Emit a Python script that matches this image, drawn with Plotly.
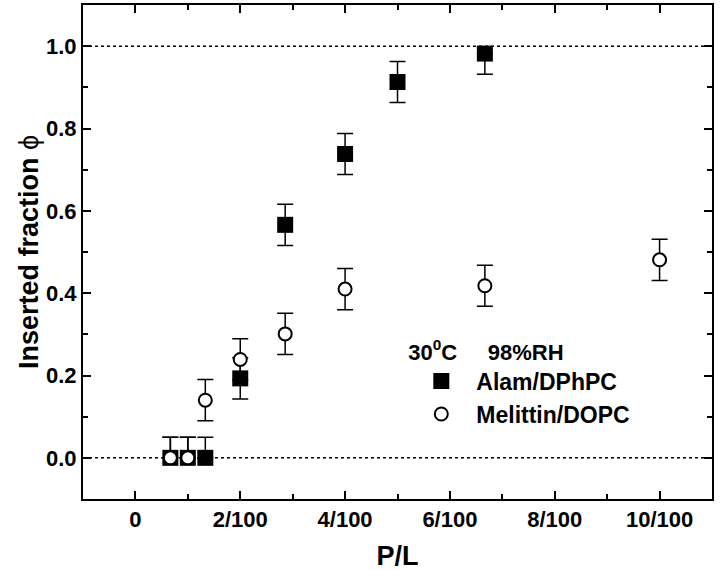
import plotly.graph_objects as go

# Data
alam_x = [1/150, 1/100, 1/75, 1/50, 1/35, 1/25, 1/20, 1/15]
alam_y = [0.0, 0.0, 0.0, 0.193, 0.566, 0.738, 0.913, 0.982]
alam_err_plus = [0.05, 0.05, 0.05, 0.05, 0.05, 0.05, 0.05, 0.0]
alam_err_minus = [0.0, 0.0, 0.0, 0.05, 0.05, 0.05, 0.05, 0.05]

mel_x = [1/150, 1/100, 1/75, 1/50, 1/35, 1/25, 1/15, 1/10]
mel_y = [0.0, 0.0, 0.14, 0.239, 0.301, 0.41, 0.418, 0.481]
mel_err_plus = [0.05, 0.05, 0.05, 0.05, 0.05, 0.05, 0.05, 0.05]
mel_err_minus = [0.0, 0.0, 0.05, 0.05, 0.05, 0.05, 0.05, 0.05]

x_tickvals = [0, 0.02, 0.04, 0.06, 0.08, 0.10]
x_ticktext = ["0", "2/100", "4/100", "6/100", "8/100", "10/100"]
y_tickvals = [0.0, 0.2, 0.4, 0.6, 0.8, 1.0]
y_ticktext = ["0.0", "0.2", "0.4", "0.6", "0.8", "1.0"]

FONT = "Liberation Sans, Arial, sans-serif"

fig = go.Figure()

fig.add_trace(go.Scatter(
    x=alam_x, y=alam_y, mode="markers", name="Alam/DPhPC",
    marker=dict(symbol="square", size=16, color="black", line=dict(width=0)),
    error_y=dict(type="data", symmetric=False, array=alam_err_plus, arrayminus=alam_err_minus,
                 visible=True, color="black", thickness=1.5, width=8),
))
fig.add_trace(go.Scatter(
    x=mel_x, y=mel_y, mode="markers", name="Melittin/DOPC",
    marker=dict(symbol="circle", size=13, color="white", line=dict(width=2, color="black")),
    error_y=dict(type="data", symmetric=False, array=mel_err_plus, arrayminus=mel_err_minus,
                 visible=True, color="black", thickness=1.5, width=8),
))

for yv in [0.0, 1.0]:
    fig.add_shape(type="line", xref="paper", x0=0, x1=1, yref="y", y0=yv, y1=yv,
                  line=dict(color="black", width=1.5, dash="dot"), layer="below")

axis_common = dict(
    showline=True, linecolor="black", linewidth=2, mirror="ticks",
    ticks="inside", ticklen=8, tickwidth=2, tickcolor="black",
    showgrid=False, zeroline=False, automargin=False,
    tickfont=dict(family=FONT, size=22, color="black", weight="bold"),
)

fig.update_xaxes(
    range=[-0.01, 0.11], tickvals=x_tickvals, ticktext=x_ticktext,
    minor=dict(ticks="inside", ticklen=5, tickwidth=2, tickcolor="black", dtick=0.01, tick0=0),
    title=dict(text="P/L", font=dict(family=FONT, size=27, color="black", weight="bold"), standoff=16),
    **axis_common,
)
fig.update_yaxes(
    range=[-0.1, 1.1], tickvals=y_tickvals, ticktext=y_ticktext,
    minor=dict(ticks="inside", ticklen=5, tickwidth=2, tickcolor="black", dtick=0.1, tick0=0),
    title=dict(text="Inserted fraction <span style='font-weight:normal'>ϕ</span>",
               font=dict(family=FONT, size=27, color="black", weight="bold"), standoff=0),
    **axis_common,
)

fig.update_layout(
    width=720, height=571,
    margin=dict(l=83, r=8, t=5, b=72),
    plot_bgcolor="white", paper_bgcolor="white",
    font=dict(family=FONT, color="black"),
    showlegend=True,
    legend=dict(
        x=0.514, y=0.340, xanchor="left", yanchor="top",
        bgcolor="rgba(0,0,0,0)", borderwidth=0,
        font=dict(family=FONT, size=23, color="black", weight="bold"),
        title=dict(text="30<sup>0</sup>C\u00a0\u00a0\u00a0\u00a0\u00a098%RH",
                   font=dict(family=FONT, size=22, color="black", weight="bold")),
        itemsizing="trace", tracegroupgap=0, itemwidth=60,
    ),
)

fig.write_html("out.html", config={"displayModeBar": False},
               post_script="document.body.style.margin='0';document.body.style.overflow='hidden';")
